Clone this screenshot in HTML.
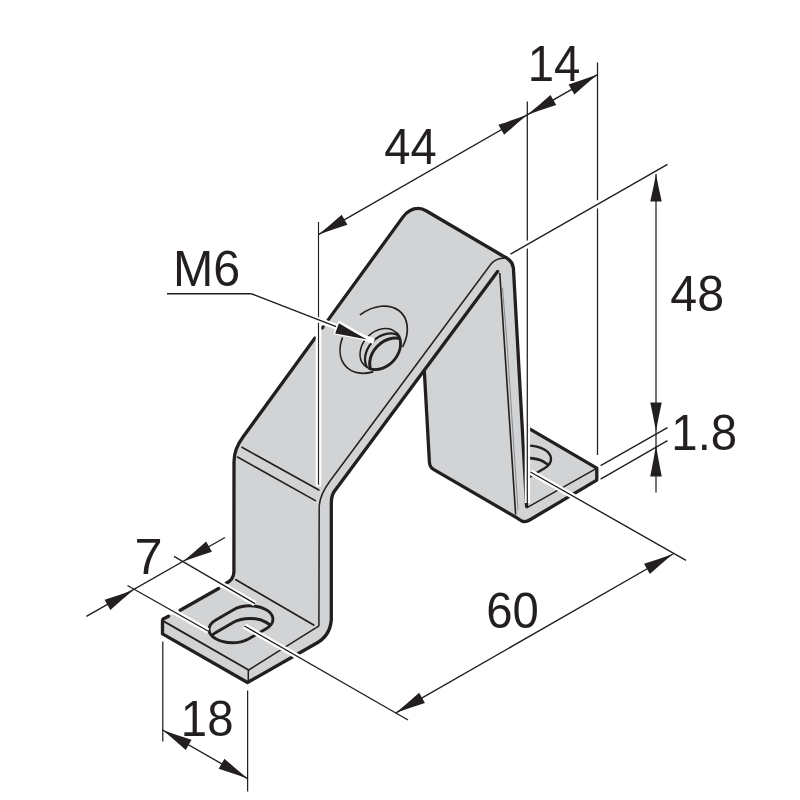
<!DOCTYPE html>
<html lang="en">
<head>
<meta charset="utf-8">
<title>Bracket drawing</title>
<style>
html,body{margin:0;padding:0;background:#fff;}
body{width:800px;height:800px;overflow:hidden;}
svg{display:block;will-change:transform;}
svg text{font-family:"Liberation Sans",Arial,Helvetica,sans-serif;fill:#231f20;}
</style>
</head>
<body>
<svg width="800" height="800" viewBox="0 0 800 800">
<rect x="0" y="0" width="800" height="800" fill="#fff"/>
<path d="M163.6,618.8 L223,586 Q233.5,581 234,571 L234,462 Q234,449 243,437 L402.5,217.6 C407,211.2 412,208.4 418.5,208.4 C421.5,208.4 424,209.5 426.5,211 L503,256 Q512.3,260 513.4,268 L526.6,506.5 L526.75,430 L530.5,429.3 L596.8,468.1 L596.8,480.1 L530,519.75 C528,521 526.5,521.6 524.5,521.6 C521,521.6 519.5,519.4 516.5,517.6 L433.5,469.4 Q429.7,467.2 429.4,462 L424.3,370.5 L334.2,491.5 Q331.3,496 331.3,503 L331.3,620 Q330,636 316,643.5 L247.5,682.5 L162.5,633.9 L162.5,620.6 Z" fill="#d2d3d5" stroke="none" stroke-width="0" stroke-linecap="round" stroke-linejoin="round" />
<path d="M504,258.3 C499,258.3 495,259.5 491,264 L330,481 Q320,494.5 319.2,506 L318.9,625.6 L317.8,626.7 L248.7,670" fill="none" stroke="#231f20" stroke-width="1.5" stroke-linecap="round" stroke-linejoin="round" />
<path d="M241.9,447.3 L318.9,490" fill="none" stroke="#231f20" stroke-width="1.6" stroke-linecap="round" stroke-linejoin="round" />
<path d="M237.5,457 L315.4,500.6" fill="none" stroke="#231f20" stroke-width="1.6" stroke-linecap="round" stroke-linejoin="round" />
<path d="M164.3,621.6 L248.7,670" fill="none" stroke="#231f20" stroke-width="1.8" stroke-linecap="round" stroke-linejoin="round" />
<path d="M248.3,670.5 L248.3,682" fill="none" stroke="#231f20" stroke-width="1.5" stroke-linecap="round" stroke-linejoin="round" />
<path d="M235.9,579.8 L313.7,625" fill="none" stroke="#231f20" stroke-width="1.8" stroke-linecap="round" stroke-linejoin="round" />
<path d="M499.8,273.5 L515.6,514" fill="none" stroke="#231f20" stroke-width="1.6" stroke-linecap="round" stroke-linejoin="round" />
<path d="M502.5,288 L506.8,340 L518,510" fill="none" stroke="#808285" stroke-width="0.9" stroke-linecap="round" stroke-linejoin="round" />
<path d="M527,507.6 L596.5,468.4" fill="none" stroke="#231f20" stroke-width="1.5" stroke-linecap="round" stroke-linejoin="round" />
<path d="M163.6,618.8 L168.6,616.2 M180.2,610.3 L218.6,588.5 M226,583.2 Q233.6,580 233.9,572 L234,462 Q234,449 243,437 L315,338 M322.3,327.9 L323,326.95 M328,320.1 L402.5,217.6 C407,211.2 412,208.4 418.5,208.4 C421.5,208.4 424,209.5 426.5,211 L503,256 Q512.3,260 513.4,268 L526.6,506.5" fill="none" stroke="#231f20" stroke-width="3.3" stroke-linecap="round" stroke-linejoin="round" />
<path d="M530.5,429.3 L596.8,468.1 L596.8,480.1 L530,519.75 C528,521 526.5,521.6 524.5,521.6 C521,521.6 519.5,519.4 516.5,517.6 L433.5,469.4 Q429.7,467.2 429.4,462 L424.3,370.5" fill="none" stroke="#231f20" stroke-width="3.3" stroke-linecap="round" stroke-linejoin="round" />
<path d="M497.6,271.6 L334.2,491.5 Q331.3,496 331.3,503 L331.3,620 Q330,636 316,643.5 L247.5,682.5 L162.5,633.9 L162.5,620.6 Q162.5,619.2 163.6,618.8" fill="none" stroke="#231f20" stroke-width="3.3" stroke-linecap="round" stroke-linejoin="round" />
<clipPath id="c1"><ellipse transform="translate(380.3,349.1) rotate(-46)" rx="22.85" ry="17.6"/></clipPath>
<g transform="translate(373.7,339.7) rotate(-45)"><path d="M8.35,-27.14 A38.6,27.8 0 0 1 15.95,25.32" fill="none" stroke="#231f20" stroke-width="1.7" stroke-linecap="round"/><path d="M-23.39,22.11 A38.6,27.8 0 0 1 -21.19,-23.24" fill="none" stroke="#231f20" stroke-width="1.7" stroke-linecap="round"/></g>
<g clip-path="url(#c1)"><g transform="translate(380.3,349.1) rotate(-46)"><ellipse cx="0" cy="7" rx="22.85" ry="17.6" fill="none" stroke="#231f20" stroke-width="2.2"/><ellipse cx="0" cy="13.5" rx="22.85" ry="17.6" fill="none" stroke="#231f20" stroke-width="3.0"/></g></g>
<g transform="translate(380.3,349.1) rotate(-46)"><ellipse rx="22.85" ry="17.6" fill="none" stroke="#231f20" stroke-width="1.5"/><path d="M22.76,1.53 A22.85,17.6 0 0 1 -21.47,6.02" fill="none" stroke="#231f20" stroke-width="2.8" stroke-linecap="round"/></g>
<clipPath id="sl1"><path d="M248.45,638.90 A23.1,13.4 0 0 1 215.85,619.90 L233.55,609.70 A23.1,13.4 0 0 1 266.15,628.70 Z"/></clipPath>
<g>
<g clip-path="url(#sl1)"><path d="M248.45,651.50 A23.1,13.4 0 0 1 215.85,632.50 L233.55,622.30 A23.1,13.4 0 0 1 266.15,641.30 Z" fill="none" stroke="#231f20" stroke-width="3.0"/></g>
<path d="M248.45,638.90 A23.1,13.4 0 0 1 215.85,619.90 L233.55,609.70 A23.1,13.4 0 0 1 266.15,628.70 Z" fill="none" stroke="#231f20" stroke-width="2.9" stroke-linejoin="round"/>
</g>
<clipPath id="rfl"><path d="M528.6,420 L610,420 L610,520 L528.6,520 Z"/></clipPath>
<clipPath id="sl2"><path d="M526.50,478.70 A23.1,13.4 0 0 1 493.90,459.70 L511.60,449.50 A23.1,13.4 0 0 1 544.20,468.50 Z"/></clipPath>
<g clip-path="url(#rfl)">
<g clip-path="url(#sl2)"><path d="M526.50,491.30 A23.1,13.4 0 0 1 493.90,472.30 L511.60,462.10 A23.1,13.4 0 0 1 544.20,481.10 Z" fill="none" stroke="#231f20" stroke-width="2.8"/></g>
<path d="M526.50,478.70 A23.1,13.4 0 0 1 493.90,459.70 L511.60,449.50 A23.1,13.4 0 0 1 544.20,468.50 Z" fill="none" stroke="#231f20" stroke-width="2.4" stroke-linejoin="round"/>
</g>
<line x1="318.50" y1="222.00" x2="318.50" y2="486.50" stroke="#fff" stroke-width="5.6" stroke-linecap="butt"/>
<line x1="318.50" y1="222.00" x2="318.50" y2="484.80" stroke="#231f20" stroke-width="1.15" stroke-linecap="butt"/>
<line x1="527.40" y1="101.50" x2="527.40" y2="503.00" stroke="#fff" stroke-width="5.4" stroke-linecap="butt"/>
<line x1="527.30" y1="101.50" x2="527.30" y2="503.00" stroke="#231f20" stroke-width="1.25" stroke-linecap="butt"/>
<line x1="597.50" y1="62.50" x2="597.50" y2="455.00" stroke="#231f20" stroke-width="1.25" stroke-linecap="butt"/>
<line x1="520.00" y1="248.75" x2="534.00" y2="240.70" stroke="#fff" stroke-width="7" stroke-linecap="butt"/>
<line x1="590.50" y1="208.40" x2="604.50" y2="200.40" stroke="#fff" stroke-width="7" stroke-linecap="butt"/>
<line x1="510.50" y1="254.20" x2="667.50" y2="164.30" stroke="#231f20" stroke-width="1.4" stroke-linecap="butt"/>
<line x1="318.50" y1="234.61" x2="597.50" y2="74.60" stroke="#231f20" stroke-width="1.4" stroke-linecap="butt"/>
<path d="M318.50,234.61 Q330.22,224.89 341.65,214.67 L347.42,224.73 Q332.81,229.42 318.50,234.61 Z" fill="#231f20"/>
<path d="M527.30,114.86 Q515.58,124.58 504.15,134.80 L498.38,124.73 Q512.99,120.05 527.30,114.86 Z" fill="#231f20"/>
<path d="M527.30,114.86 Q539.02,105.14 550.45,94.92 L556.22,104.99 Q541.61,109.67 527.30,114.86 Z" fill="#231f20"/>
<path d="M597.50,74.60 Q585.78,84.32 574.35,94.54 L568.58,84.47 Q583.19,79.79 597.50,74.60 Z" fill="#231f20"/>
<line x1="656.00" y1="174.00" x2="656.00" y2="492.50" stroke="#231f20" stroke-width="1.25" stroke-linecap="butt"/>
<path d="M656.00,174.00 Q658.59,187.75 661.75,201.50 L650.25,201.50 Q653.41,187.75 656.00,174.00 Z" fill="#231f20"/>
<path d="M656.00,431.50 Q653.41,417.00 650.25,402.50 L661.75,402.50 Q658.59,417.00 656.00,431.50 Z" fill="#231f20"/>
<path d="M656.00,445.00 Q658.59,460.75 661.75,476.50 L650.25,476.50 Q653.41,460.75 656.00,445.00 Z" fill="#231f20"/>
<line x1="600.60" y1="465.60" x2="667.50" y2="427.60" stroke="#231f20" stroke-width="1.4" stroke-linecap="butt"/>
<line x1="600.60" y1="479.20" x2="667.50" y2="440.60" stroke="#231f20" stroke-width="1.4" stroke-linecap="butt"/>
<line x1="244.50" y1="626.00" x2="334.43" y2="677.70" stroke="#fff" stroke-width="5.6" stroke-linecap="butt"/>
<line x1="244.50" y1="626.00" x2="408.00" y2="720.00" stroke="#231f20" stroke-width="1.4" stroke-linecap="butt"/>
<line x1="530.50" y1="472.00" x2="608.25" y2="516.15" stroke="#fff" stroke-width="5.6" stroke-linecap="butt"/>
<line x1="530.50" y1="472.00" x2="686.00" y2="560.30" stroke="#231f20" stroke-width="1.4" stroke-linecap="butt"/>
<line x1="396.00" y1="712.80" x2="673.00" y2="554.00" stroke="#231f20" stroke-width="1.4" stroke-linecap="butt"/>
<path d="M396.00,712.80 Q407.72,703.08 419.15,692.86 L424.92,702.93 Q410.31,707.61 396.00,712.80 Z" fill="#231f20"/>
<path d="M673.00,554.00 Q661.28,563.72 649.85,573.94 L644.08,563.87 Q658.69,559.19 673.00,554.00 Z" fill="#231f20"/>
<line x1="198.30" y1="570.56" x2="255.00" y2="603.60" stroke="#fff" stroke-width="5.6" stroke-linecap="butt"/>
<line x1="174.00" y1="556.40" x2="255.00" y2="603.60" stroke="#231f20" stroke-width="1.4" stroke-linecap="butt"/>
<line x1="151.65" y1="599.15" x2="208.00" y2="631.00" stroke="#fff" stroke-width="5.6" stroke-linecap="butt"/>
<line x1="127.50" y1="585.50" x2="208.00" y2="631.00" stroke="#231f20" stroke-width="1.4" stroke-linecap="butt"/>
<line x1="86.40" y1="616.40" x2="225.00" y2="537.50" stroke="#231f20" stroke-width="1.4" stroke-linecap="butt"/>
<path d="M133.50,590.00 Q121.78,599.72 110.35,609.94 L104.58,599.87 Q119.19,595.19 133.50,590.00 Z" fill="#231f20"/>
<path d="M183.00,561.50 Q194.72,551.78 206.15,541.56 L211.92,551.63 Q197.31,556.31 183.00,561.50 Z" fill="#231f20"/>
<line x1="162.80" y1="641.50" x2="162.80" y2="741.50" stroke="#231f20" stroke-width="1.25" stroke-linecap="butt"/>
<line x1="247.60" y1="690.50" x2="247.60" y2="791.50" stroke="#231f20" stroke-width="1.25" stroke-linecap="butt"/>
<line x1="162.60" y1="730.00" x2="247.60" y2="778.60" stroke="#231f20" stroke-width="1.4" stroke-linecap="butt"/>
<path d="M162.60,730.00 Q176.91,735.19 191.52,739.87 L185.75,749.94 Q174.32,739.72 162.60,730.00 Z" fill="#231f20"/>
<path d="M247.60,778.60 Q233.29,773.41 218.68,768.73 L224.45,758.66 Q235.88,768.88 247.60,778.60 Z" fill="#231f20"/>
<line x1="167.00" y1="293.75" x2="251.30" y2="293.75" stroke="#231f20" stroke-width="1.4" stroke-linecap="butt"/>
<line x1="300.00" y1="312.70" x2="374.00" y2="341.40" stroke="#fff" stroke-width="5.5" stroke-linecap="butt"/>
<line x1="251.30" y1="293.75" x2="360.00" y2="335.90" stroke="#231f20" stroke-width="1.4" stroke-linecap="butt"/>
<path d="M367.00,339.60 Q351.15,336.30 335.11,333.51 L338.97,323.21 Q352.89,331.66 367.00,339.60 Z" fill="#fff" stroke="#fff" stroke-width="3.5" stroke-linejoin="round" transform="translate(0.5,-0.5)"/>
<path d="M367.00,339.60 Q351.15,336.30 335.11,333.51 L338.97,323.21 Q352.89,331.66 367.00,339.60 Z" fill="#231f20"/>
<text x="0" y="0" font-size="49.3" transform="translate(384.32,163.50) scale(0.9568,1)">44</text>
<text x="0" y="0" font-size="49.3" transform="translate(527.65,81.00) scale(0.9600,1)">14</text>
<text x="0" y="0" font-size="49.3" transform="translate(670.29,310.51) scale(0.9802,1)">48</text>
<text x="0" y="0" font-size="49.3" transform="translate(671.34,450.01) scale(0.9600,1)">1.8</text>
<text x="0" y="0" font-size="49.3" transform="translate(486.13,628.01) scale(0.9598,1)">60</text>
<text x="0" y="0" font-size="49.3" transform="translate(134.47,574.00) scale(1.0253,1)">7</text>
<text x="0" y="0" font-size="49.3" transform="translate(180.86,735.51) scale(0.9600,1)">18</text>
<text x="0" y="0" font-size="49.3" transform="translate(173.03,285.51) scale(0.9813,1)">M6</text>
</svg>
</body>
</html>
